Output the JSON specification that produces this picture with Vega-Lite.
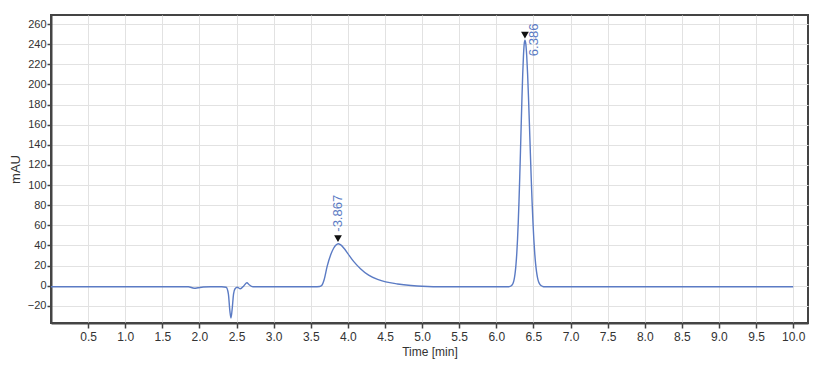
{
  "$schema": "https://vega.github.io/schema/vega-lite/v6.json",
  "width": 757,
  "height": 308,
  "autosize": {"type": "none"},
  "padding": {"left": 51, "top": 15, "right": 16, "bottom": 43},
  "background": "white",
  "config": {
    "view": {"stroke": "#444444", "strokeWidth": 2},
    "axis": {
      "domainColor": "#444444",
      "domainWidth": 2,
      "tickColor": "#444444",
      "tickWidth": 1.5,
      "gridColor": "#e2e2e2",
      "gridWidth": 1,
      "labelColor": "#333333",
      "titleColor": "#333333",
      "titleFontWeight": "normal"
    }
  },
  "datasets": {
    "trace": [
      {"t": 0.0, "v": -1.0}, {"t": 1.0, "v": -1.0}, {"t": 1.85, "v": -1.0}, {"t": 1.93, "v": -2.5},
      {"t": 1.98, "v": -2.0}, {"t": 2.05, "v": -1.2}, {"t": 2.15, "v": -1.0}, {"t": 2.3, "v": -1.0},
      {"t": 2.36, "v": -1.5}, {"t": 2.39, "v": -8}, {"t": 2.41, "v": -25}, {"t": 2.425, "v": -32},
      {"t": 2.44, "v": -24}, {"t": 2.46, "v": -8}, {"t": 2.48, "v": -3}, {"t": 2.51, "v": -1.5},
      {"t": 2.55, "v": -3}, {"t": 2.6, "v": 0}, {"t": 2.64, "v": 3}, {"t": 2.67, "v": 1},
      {"t": 2.72, "v": -1.0}, {"t": 3.0, "v": -1.0}, {"t": 3.55, "v": -1.0}, {"t": 3.62, "v": -0.8},
      {"t": 3.65, "v": 0.5}, {"t": 3.68, "v": 6}, {"t": 3.72, "v": 19}, {"t": 3.77, "v": 31},
      {"t": 3.81, "v": 37.5}, {"t": 3.84, "v": 40.5}, {"t": 3.87, "v": 41.8}, {"t": 3.9, "v": 40.8},
      {"t": 3.95, "v": 37}, {"t": 4.0, "v": 32}, {"t": 4.08, "v": 24}, {"t": 4.17, "v": 17},
      {"t": 4.28, "v": 10.5}, {"t": 4.4, "v": 6.3}, {"t": 4.51, "v": 3.8}, {"t": 4.67, "v": 1.8},
      {"t": 4.85, "v": 0.3}, {"t": 5.0, "v": -0.5}, {"t": 5.3, "v": -1.0}, {"t": 6.1, "v": -1.0},
      {"t": 6.166, "v": -1.0}, {"t": 6.186, "v": -0.7}, {"t": 6.206, "v": 0.2}, {"t": 6.216, "v": 1.1},
      {"t": 6.226, "v": 2.6}, {"t": 6.236, "v": 4.9}, {"t": 6.246, "v": 8.6}, {"t": 6.256, "v": 14.0},
      {"t": 6.266, "v": 21.7}, {"t": 6.276, "v": 32.1}, {"t": 6.286, "v": 45.9}, {"t": 6.296, "v": 63.2},
      {"t": 6.306, "v": 84.1}, {"t": 6.316, "v": 108.0}, {"t": 6.326, "v": 134.1}, {"t": 6.336, "v": 161.1},
      {"t": 6.346, "v": 187.1}, {"t": 6.356, "v": 210.1}, {"t": 6.366, "v": 228.3}, {"t": 6.376, "v": 240.0},
      {"t": 6.386, "v": 244.0}, {"t": 6.398, "v": 240.0}, {"t": 6.41, "v": 228.3}, {"t": 6.422, "v": 210.1},
      {"t": 6.434, "v": 187.1}, {"t": 6.446, "v": 161.1}, {"t": 6.458, "v": 134.1}, {"t": 6.47, "v": 108.0},
      {"t": 6.482, "v": 84.1}, {"t": 6.494, "v": 63.2}, {"t": 6.506, "v": 45.9}, {"t": 6.518, "v": 32.1},
      {"t": 6.53, "v": 21.7}, {"t": 6.542, "v": 14.0}, {"t": 6.554, "v": 8.6}, {"t": 6.566, "v": 4.9},
      {"t": 6.578, "v": 2.6}, {"t": 6.59, "v": 1.1}, {"t": 6.602, "v": 0.2}, {"t": 6.626, "v": -0.7},
      {"t": 6.65, "v": -1.0}, {"t": 7.0, "v": -1.0}, {"t": 8.0, "v": -1.0}, {"t": 9.0, "v": -1.0},
      {"t": 10.0, "v": -1.0}
    ],
    "peaks": [
      {"t": 3.867, "v": 41.8, "label": "-3.867", "peak": 1},
      {"t": 6.386, "v": 244.0, "label": "6.386", "peak": 2}
    ]
  },
  "layer": [
    {
      "data": {"name": "trace"},
      "mark": {"type": "line", "color": "#5b7bc4", "strokeWidth": 1.4, "interpolate": "monotone", "clip": true},
      "encoding": {
        "x": {
          "field": "t", "type": "quantitative",
          "scale": {"domain": [0, 10.2], "nice": false, "zero": false},
          "axis": {
            "title": "Time [min]",
            "values": [0.5, 1.0, 1.5, 2.0, 2.5, 3.0, 3.5, 4.0, 4.5, 5.0, 5.5, 6.0, 6.5, 7.0, 7.5, 8.0, 8.5, 9.0, 9.5, 10.0],
            "tickCount": 100,
            "format": ".1f",
            "labelOverlap": false,
            "labelBound": false,
            "tickSize": 5,
            "labelPadding": 3,
            "labelFont": "Liberation Sans",
            "labelFontSize": 12,
            "titleFont": "Liberation Sans",
            "titleFontSize": 12,
            "titlePadding": 4
          }
        },
        "y": {
          "field": "v", "type": "quantitative",
          "scale": {"domain": [-37, 269], "nice": false, "zero": false},
          "axis": {
            "title": "mAU",
            "values": [-20, 0, 20, 40, 60, 80, 100, 120, 140, 160, 180, 200, 220, 240, 260],
            "tickCount": 100,
            "labelOverlap": false,
            "labelBound": false,
            "tickSize": 4,
            "labelPadding": 1,
            "labelFont": "Liberation Sans",
            "labelFontSize": 11,
            "titleFont": "Liberation Sans",
            "titleFontSize": 13,
            "titlePadding": 5
          }
        }
      }
    },
    {
      "data": {"name": "peaks"},
      "mark": {"type": "point", "shape": "triangle-down", "filled": true, "color": "#111111", "size": 60, "opacity": 1, "yOffset": -5},
      "encoding": {
        "x": {"field": "t", "type": "quantitative"},
        "y": {"field": "v", "type": "quantitative"}
      }
    },
    {
      "data": {"name": "peaks"},
      "transform": [{"filter": "datum.peak == 1"}],
      "mark": {"type": "text", "angle": 270, "align": "left", "baseline": "middle", "font": "Liberation Sans", "fontSize": 13, "color": "#5b7bc4", "yOffset": -12},
      "encoding": {
        "x": {"field": "t", "type": "quantitative"},
        "y": {"field": "v", "type": "quantitative"},
        "text": {"field": "label"}
      }
    },
    {
      "data": {"name": "peaks"},
      "transform": [{"filter": "datum.peak == 2"}],
      "mark": {"type": "text", "angle": 270, "align": "left", "baseline": "middle", "font": "Liberation Sans", "fontSize": 13, "color": "#5b7bc4", "xOffset": 9, "yOffset": 16},
      "encoding": {
        "x": {"field": "t", "type": "quantitative"},
        "y": {"field": "v", "type": "quantitative"},
        "text": {"field": "label"}
      }
    }
  ]
}
